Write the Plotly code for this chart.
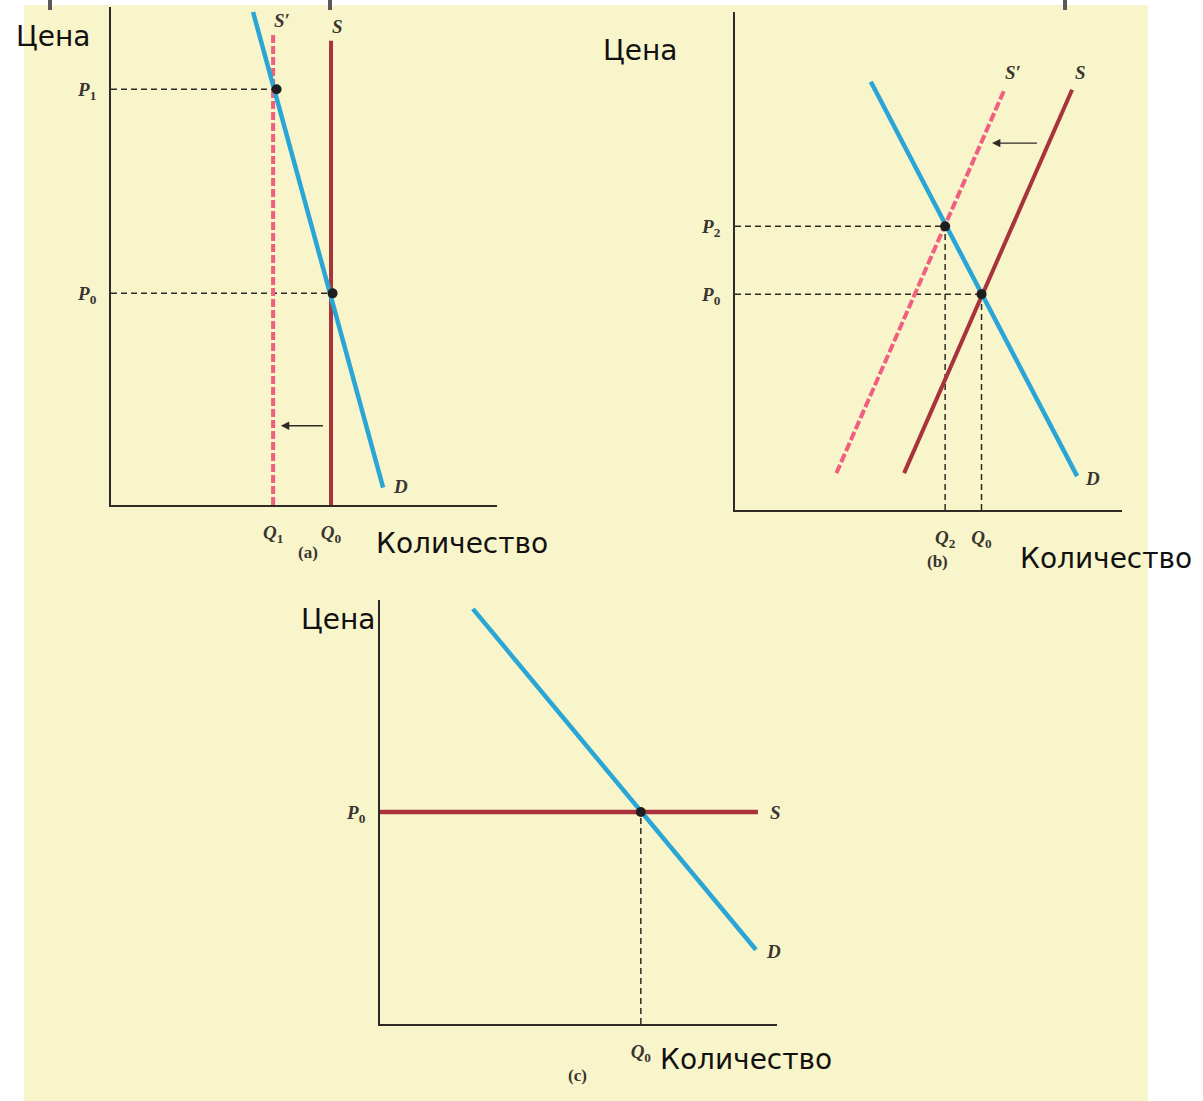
import plotly.graph_objects as go

W, H = 1203, 1101

# ---------------- data (units: quantity 0..10, price 0..10 per panel) ----------------
# Panel (a): vertical supply shifts left
A_Q1, A_Q0 = 4.2, 5.7
A_P1, A_P0 = 8.35, 4.25
A_D_Q = [3.68, 7.05]
A_D_P = [9.9, 0.35]
A_S_Q = [5.7, 5.7]
A_S_P = [0.0, 9.32]
A_S1_Q = [4.2, 4.2]
A_S1_P = [0.0, 9.46]
A_ARROW = [5.53, 4.40, 1.59]  # from q, to q, at p

# Panel (b): upward sloping supply shifts left
B_D_Q = [3.51, 8.84]
B_D_P = [8.59, 0.68]
B_S_Q = [4.37, 8.71]
B_S_P = [0.74, 8.43]
B_S1_Q = [2.62, 6.95]
B_S1_P = [0.74, 8.41]
B_Q2, B_Q0 = 5.43, 6.37
B_P2, B_P0 = 5.69, 4.33
B_ARROW = [7.84, 6.64, 7.36]

# Panel (c): perfectly elastic supply
C_D_Q = [2.34, 9.47]
C_D_P = [9.79, 1.75]
C_S_Q = [0.0, 9.52]
C_S_P = [5.0, 5.0]
C_Q0, C_P0 = 6.57, 5.0

# tick labels
A_QT = ["<i>Q</i><sub>1</sub>", "<i>Q</i><sub>0</sub>"]
A_PT = ["<i>P</i><sub>1</sub>", "<i>P</i><sub>0</sub>"]
B_QT = ["<i>Q</i><sub>2</sub>", "<i>Q</i><sub>0</sub>"]
B_PT = ["<i>P</i><sub>2</sub>", "<i>P</i><sub>0</sub>"]
C_QT = ["<i>Q</i><sub>0</sub>"]
C_PT = ["<i>P</i><sub>0</sub>"]

# ---------------- styles ----------------
BLUE = "#2AA6D6"
RED = "#A8333D"
PINK = "#F05F80"
INK = "#2E2A26"
LABEL = "#3A3530"
BG = "#F9F5CA"
SERIF = "Liberation Serif"
SANS = "DejaVu Sans"

def px(x):
    return x / W

def py(y):
    return 1 - y / H

fig = go.Figure()

def line(q, p, ax, color, width, dash="solid"):
    fig.add_trace(go.Scatter(x=q, y=p, mode="lines", xaxis="x" + ax, yaxis="y" + ax,
                             line=dict(color=color, width=width, dash=dash),
                             hoverinfo="skip", showlegend=False))

def guide(q, p, ax):
    line(q, p, ax, INK, 1.5, "6px,4px")

def dots(q, p, ax):
    fig.add_trace(go.Scatter(x=q, y=p, mode="markers", xaxis="x" + ax, yaxis="y" + ax,
                             marker=dict(color="#1E1E1E", size=10),
                             hoverinfo="skip", showlegend=False))

# Panel (a)
guide([0, A_Q1], [A_P1, A_P1], "")
guide([0, A_Q0], [A_P0, A_P0], "")
line(A_S1_Q, A_S1_P, "", PINK, 4, "8px,3px")
line(A_S_Q, A_S_P, "", RED, 4)
line(A_D_Q, A_D_P, "", BLUE, 4.5)
dots([A_Q1 + 0.09, A_Q0 + 0.04], [A_P1, A_P0], "")

# Panel (b)
guide([0, B_Q2], [B_P2, B_P2], "2")
guide([0, B_Q0], [B_P0, B_P0], "2")
guide([B_Q2, B_Q2], [0, B_P2], "2")
guide([B_Q0, B_Q0], [0, B_P0], "2")
line(B_S1_Q, B_S1_P, "2", PINK, 4, "9px,3px")
line(B_S_Q, B_S_P, "2", RED, 4)
line(B_D_Q, B_D_P, "2", BLUE, 4.5)
dots([B_Q2, B_Q0], [B_P2, B_P0], "2")

# Panel (c)
guide([C_Q0, C_Q0], [0, C_P0], "3")
line(C_S_Q, C_S_P, "3", RED, 4.5)
line(C_D_Q, C_D_P, "3", BLUE, 4.5)
dots([C_Q0], [C_P0], "3")

# ---------------- axes ----------------
tickfont = dict(family=SERIF, size=19, color=LABEL, weight="bold")

def axes(name, xdom, ydom, xtv, xtt, ytv, ytt):
    common = dict(range=[0, 10], showgrid=False, zeroline=False, showline=True,
                  linecolor=INK, linewidth=1.8, ticks="", tickfont=tickfont, fixedrange=True)
    xa = dict(common, domain=xdom, tickvals=xtv, ticktext=xtt, ticklabelstandoff=9,
              anchor="y" + name)
    ya = dict(common, domain=ydom, tickvals=ytv, ticktext=ytt, ticklabelstandoff=9,
              anchor="x" + name)
    fig.update_layout({"xaxis" + name: xa, "yaxis" + name: ya})

axes("", [px(111), px(497)], [py(505), py(7)], [A_Q1, A_Q0], A_QT, [A_P1, A_P0], A_PT)
axes("2", [px(735), px(1122)], [py(510), py(11.5)], [B_Q2, B_Q0], B_QT, [B_P2, B_P0], B_PT)
axes("3", [px(380), px(777)], [py(1024), py(600)], [C_Q0], C_QT, [C_P0], C_PT)

# ---------------- annotations ----------------
ann = []

def curve_label(text, x, y, ax):
    ann.append(dict(text=text, x=x, y=y, xref="x" + ax, yref="y" + ax, showarrow=False,
                    font=dict(family=SERIF, size=19, color=LABEL, style="italic", weight="bold")))

curve_label("S′", 4.43, 9.72, "")
curve_label("S", 5.88, 9.6, "")
curve_label("D", 7.51, 0.38, "")
curve_label("S′", 7.18, 8.77, "2")
curve_label("S", 8.94, 8.77, "2")
curve_label("D", 9.25, 0.64, "2")
curve_label("S", 9.97, 5.0, "3")
curve_label("D", 9.92, 1.70, "3")

def arrow(spec, ax):
    x0, x1, y = spec
    ann.append(dict(x=x1, y=y, ax=x0, ay=y, xref="x" + ax, yref="y" + ax,
                    axref="x" + ax, ayref="y" + ax, showarrow=True, text="",
                    arrowhead=2, arrowsize=1.2, arrowwidth=1.4, arrowcolor=INK))

arrow(A_ARROW, "")
arrow(B_ARROW, "2")

def paper_text(text, x, y, size, family, bold=False, color="#111"):
    ann.append(dict(text=text, x=px(x), y=py(y), xref="paper", yref="paper", showarrow=False,
                    xanchor="center", yanchor="middle",
                    font=dict(family=family, size=size, color=color,
                              weight="bold" if bold else "normal")))

for t, x, y in [("(a)", 308, 552), ("(b)", 937, 561), ("(c)", 577, 1075)]:
    paper_text(t, x, y, 17, SERIF, bold=True, color=LABEL)

for x, y in [(53, 36), (640, 50), (338, 619)]:
    paper_text("Цена", x, y, 28, SANS)
for x, y in [(462, 543), (1106, 559), (746, 1059)]:
    paper_text("Количество", x, y, 28, SANS)

# ---------------- background shapes ----------------
shapes = [dict(type="rect", xref="paper", yref="paper", x0=px(24), x1=px(1148),
               y0=0, y1=py(5), fillcolor=BG, line=dict(width=0), layer="below")]
for bx in [50, 330, 1065]:
    shapes.append(dict(type="rect", xref="paper", yref="paper", x0=px(bx - 2), x1=px(bx + 2),
                       y0=py(10), y1=1, fillcolor="#5A5A5A", line=dict(width=0), layer="below"))

fig.update_layout(width=W, height=H, margin=dict(l=0, r=0, t=0, b=0),
                  paper_bgcolor="white", plot_bgcolor="rgba(0,0,0,0)",
                  annotations=ann, shapes=shapes, showlegend=False)

fig.write_html("out.html", config={"displayModeBar": False},
               post_script="document.body.style.margin='0';")
